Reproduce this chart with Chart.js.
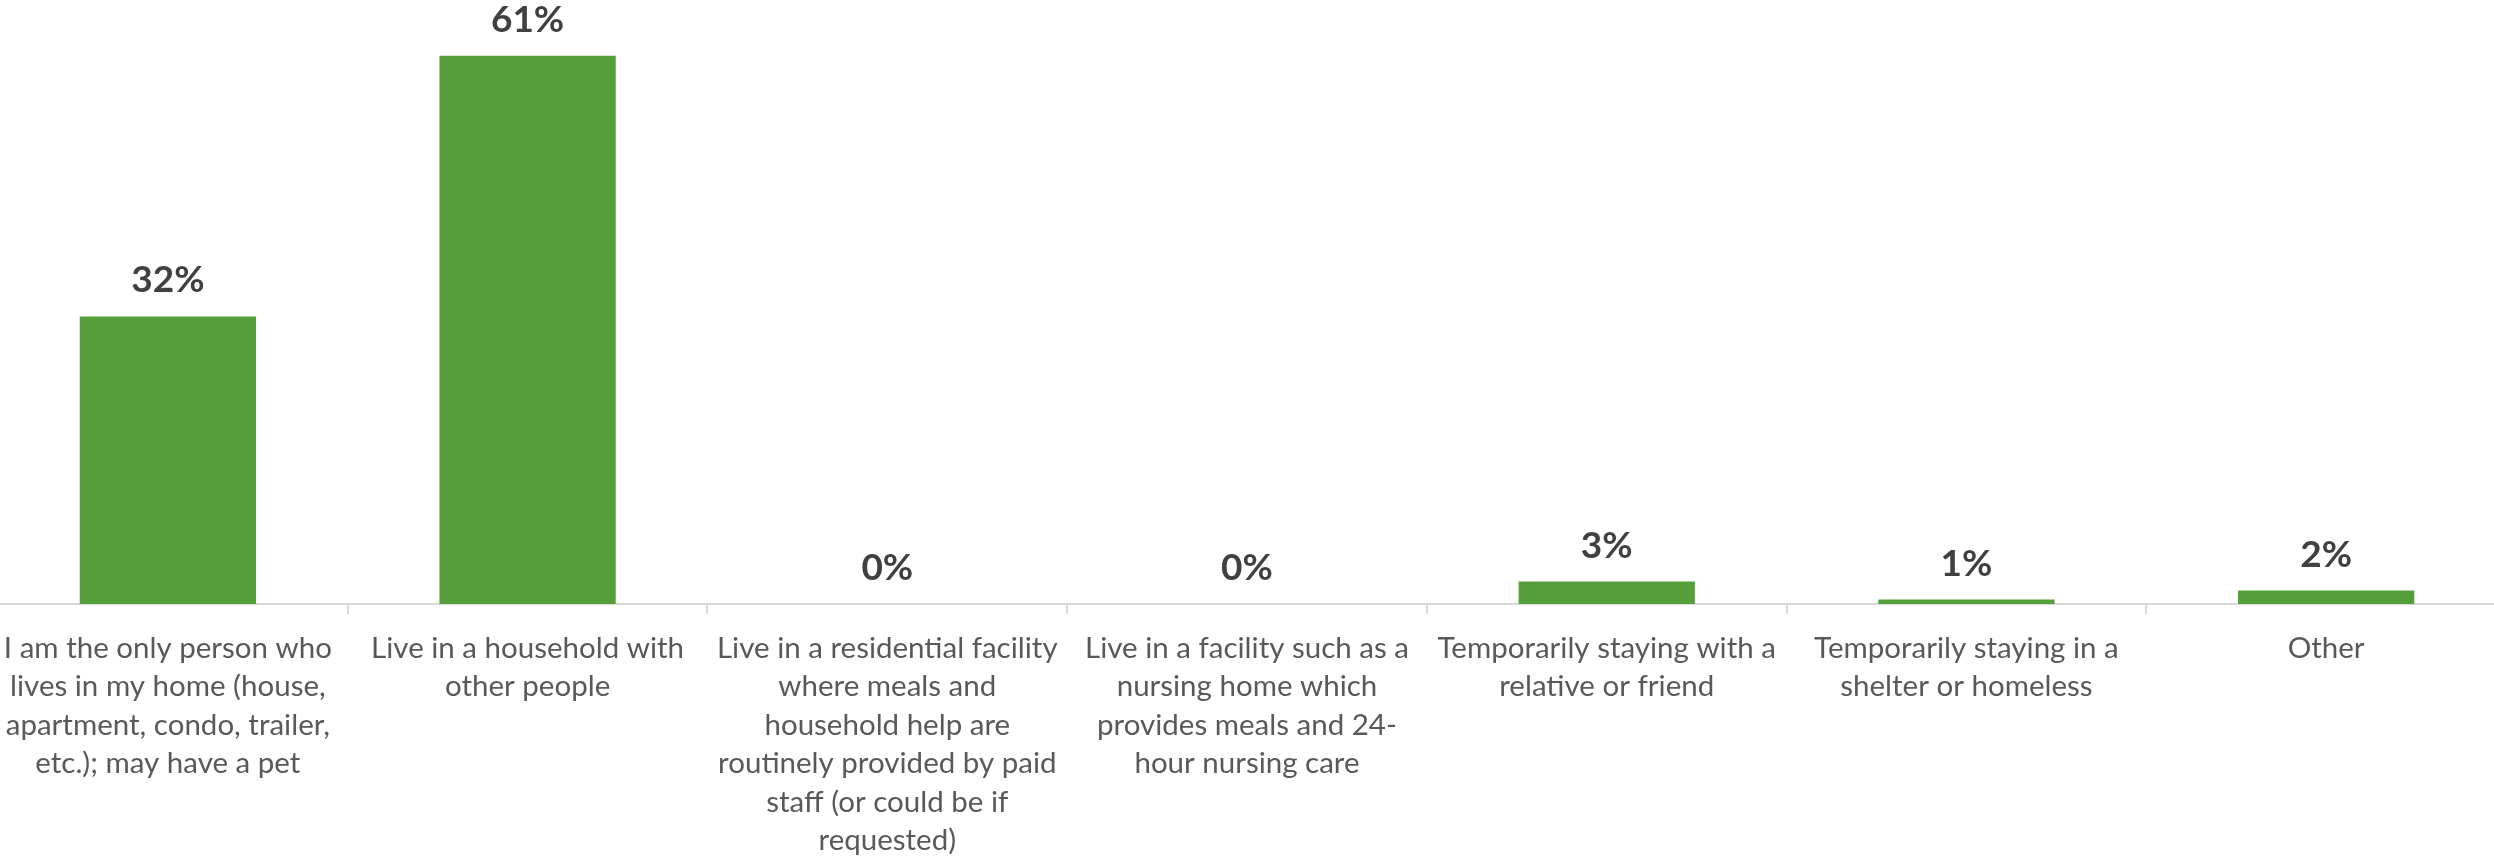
<!DOCTYPE html>
<html>
<head>
<meta charset="utf-8">
<script src="https://cdn.jsdelivr.net/npm/chart.js@4"></script>
<style>
  html, body { margin: 0; padding: 0; background: #fff; overflow: hidden; }
  #wrap { position: absolute; left: -12px; top: 0; width: 2518px; height: 859px; }
</style>
</head>
<body>
<div id="wrap"><canvas id="living" width="2518" height="859"></canvas></div>
<script>
const categories = [
    ['I am the only person who', 'lives in my home (house,', 'apartment, condo, trailer,', 'etc.); may have a pet'],
    ['Live in a household with', 'other people'],
    ['Live in a residential facility', 'where meals and', 'household help are', 'routinely provided by paid', 'staff (or could be if', 'requested)'],
    ['Live in a facility such as a', 'nursing home which', 'provides meals and 24-', 'hour nursing care'],
    ['Temporarily staying with a', 'relative or friend'],
    ['Temporarily staying in a', 'shelter or homeless'],
    ['Other']
];
const shares = [32, 61, 0, 0, 2.5, 0.5, 1.5];

// labels above each bar, like the spreadsheet's data labels
const barLabels = {
    id: 'barLabels',
    afterDatasetsDraw(chart) {
        const ctx = chart.ctx;
        const meta = chart.getDatasetMeta(0);
        ctx.save();
        ctx.font = 'bold 37px Lato';
        ctx.fillStyle = '#404040';
        ctx.textAlign = 'center';
        ctx.textBaseline = 'alphabetic';
        meta.data.forEach((bar, i) => {
            ctx.fillText(Math.round(shares[i]) + '%', bar.x, bar.y - 24);
        });
        ctx.restore();
    }
};

new Chart(document.getElementById('living').getContext('2d'), {
    type: 'bar',
    data: {
        labels: categories,
        datasets: [{
            data: shares,
            backgroundColor: '#549F3A',
            barPercentage: 0.98,
            categoryPercentage: 0.5
        }]
    },
    options: {
        responsive: false,
        animation: false,
        devicePixelRatio: 1,
        layout: { padding: 0 },
        plugins: {
            legend: { display: false },
            tooltip: { enabled: false }
        },
        scales: {
            y: { display: false, min: 0, max: 67.2 },
            x: {
                border: { color: '#d9d9d9', width: 2 },
                grid: { drawOnChartArea: false, color: '#d9d9d9', lineWidth: 2, tickLength: 10 },
                ticks: {
                    color: '#595959',
                    font: { family: 'Lato', size: 29.5, lineHeight: '38.5px' },
                    padding: 15,
                    maxRotation: 0,
                    autoSkip: false
                },
                afterFit(scale) { scale.height = 255; }
            }
        }
    },
    plugins: [barLabels]
});
</script>
</body>
</html>
